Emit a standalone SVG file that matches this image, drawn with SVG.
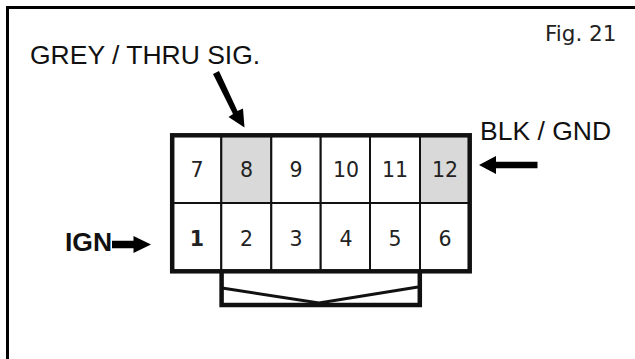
<svg xmlns="http://www.w3.org/2000/svg" width="635" height="359" viewBox="0 0 635 359">
<style>
.lab{font-family:"Liberation Sans",Arial,sans-serif;font-size:26.5px;fill:#111}
.pin{font-family:"DejaVu Sans",Verdana,sans-serif;font-size:20.5px;fill:#222;text-anchor:middle}
.cell{fill:#fff;stroke:#111;stroke-width:2}
.grey{fill:#d9d9d9}
</style>
<rect width="635" height="359" fill="#fff"/>
<path id="frame" d="M7.500 359V7.500H635" fill="none" stroke="#000" stroke-width="3"/>
<text x="30" y="64" class="lab">GREY / THRU SIG.</text>
<text x="545" y="40.500" style="font-family:'DejaVu Sans',Verdana,sans-serif;font-size:21.500px;fill:#222">Fig. 21</text>
<text x="480" y="140" class="lab">BLK / GND</text>
<text x="65" y="251" class="lab" style="font-weight:bold;font-size:26.500px">IGN</text>
<g id="connector-body">
<rect x="172" y="135" width="49.300" height="68" class="cell"/>
<rect x="221.300" y="135" width="50" height="68" class="cell grey"/>
<rect x="271.300" y="135" width="49.400" height="68" class="cell"/>
<rect x="320.700" y="135" width="49.300" height="68" class="cell"/>
<rect x="370" y="135" width="50" height="68" class="cell"/>
<rect x="420" y="135" width="50" height="68" class="cell grey"/>
<rect x="172" y="203" width="49.300" height="68" class="cell"/>
<rect x="221.300" y="203" width="50" height="68" class="cell"/>
<rect x="271.300" y="203" width="49.400" height="68" class="cell"/>
<rect x="320.700" y="203" width="49.300" height="68" class="cell"/>
<rect x="370" y="203" width="50" height="68" class="cell"/>
<rect x="420" y="203" width="50" height="68" class="cell"/>
<rect x="172.200" y="135.300" width="297.500" height="136" fill="none" stroke="#111" stroke-width="4.500"/>
<path d="M221.600 272V305H419.800V272" fill="none" stroke="#111" stroke-width="4.500"/>
<path d="M222 288L319 303L418 287" fill="none" stroke="#111" stroke-width="3"/>
</g>
<g id="pins">
<text x="197" y="177" class="pin">7</text><text x="246.500" y="177" class="pin">8</text><text x="296" y="177" class="pin">9</text><text x="346" y="177" class="pin">10</text><text x="395" y="177" class="pin">11</text><text x="445" y="177" class="pin">12</text>
<text x="197" y="246" class="pin" style="font-weight:bold">1</text><text x="246.500" y="246" class="pin">2</text><text x="296" y="246" class="pin">3</text><text x="346" y="246" class="pin">4</text><text x="395" y="246" class="pin">5</text><text x="445" y="246" class="pin">6</text>
</g>
<g id="connectors" fill="#000">
<path d="M213 74L219 71L237.500 111L243 108.500L244.500 127.500L228.500 117L233 114Z"/>
<path d="M537.500 161.700V168.300H496V174L479 165L496 156V161.700Z"/>
<path d="M112 240.800H133.500V236L151 244.500L133.500 253V248.200H112Z"/>
</g>
</svg>
